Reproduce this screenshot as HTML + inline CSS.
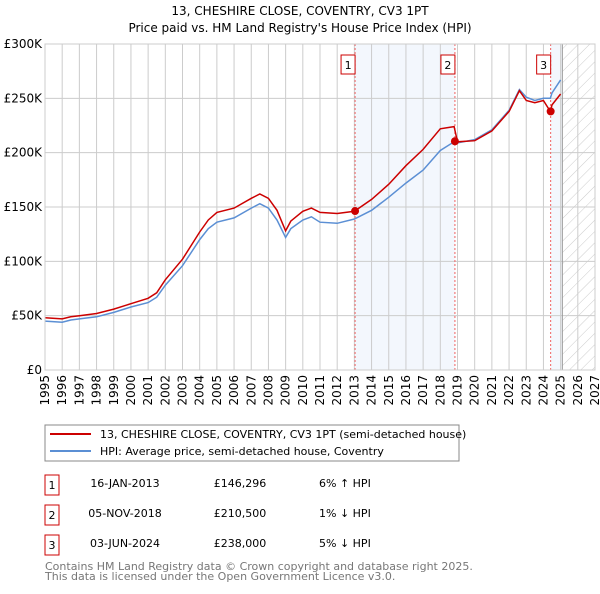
<!DOCTYPE html>
<html><head><meta charset="utf-8"><style>
body{margin:0;background:#fff;font-family:"DejaVu Sans","Liberation Sans",sans-serif;}
svg text{font-family:"DejaVu Sans","Liberation Sans",sans-serif;}
</style></head><body>
<svg id="c" width="600" height="590" xmlns="http://www.w3.org/2000/svg">
<defs><pattern id="hatch" width="8" height="8" patternUnits="userSpaceOnUse" patternTransform="rotate(45)"><line x1="0" y1="0" x2="0" y2="8" stroke="#ccc" stroke-width="1"/></pattern></defs>
<text x="300" y="15" text-anchor="middle" font-size="12" fill="#000">13, CHESHIRE CLOSE, COVENTRY, CV3 1PT</text>
<text x="300" y="32" text-anchor="middle" font-size="12" fill="#000">Price paid vs. HM Land Registry's House Price Index (HPI)</text>
<g id="plot"></g>
<g>
<rect x="45" y="425" width="414" height="36" fill="#fff" stroke="#888"/>
<line x1="50" y1="434" x2="91" y2="434" stroke="#cc0000" stroke-width="2"/>
<text x="100" y="438" font-size="11">13, CHESHIRE CLOSE, COVENTRY, CV3 1PT (semi-detached house)</text>
<line x1="50" y1="451" x2="91" y2="451" stroke="#5b8fd4" stroke-width="2"/>
<text x="100" y="455" font-size="11">HPI: Average price, semi-detached house, Coventry</text>
</g>
<g font-size="11">
<rect x="45" y="475" width="14" height="20" fill="none" stroke="#cc0000"/><text x="52" y="489" text-anchor="middle">1</text>
<text x="125" y="487" text-anchor="middle">16-JAN-2013</text><text x="240" y="487" text-anchor="middle">£146,296</text><text x="319" y="487">6% ↑ HPI</text>
<rect x="45" y="505" width="14" height="20" fill="none" stroke="#cc0000"/><text x="52" y="519" text-anchor="middle">2</text>
<text x="125" y="517" text-anchor="middle">05-NOV-2018</text><text x="240" y="517" text-anchor="middle">£210,500</text><text x="319" y="517">1% ↓ HPI</text>
<rect x="45" y="535" width="14" height="20" fill="none" stroke="#cc0000"/><text x="52" y="549" text-anchor="middle">3</text>
<text x="125" y="547" text-anchor="middle">03-JUN-2024</text><text x="240" y="547" text-anchor="middle">£238,000</text><text x="319" y="547">5% ↓ HPI</text>
</g>
<text x="45" y="570" font-size="11" fill="#777">Contains HM Land Registry data © Crown copyright and database right 2025.</text>
<text x="45" y="580" font-size="11" fill="#777">This data is licensed under the Open Government Licence v3.0.</text>
</svg>
<script>
const years=[1995,1996,1996.5,1997,1998,1999,2000,2001,2001.5,2002,2003,2004,2004.5,2005,2006,2007,2007.5,2008,2008.5,2009,2009.3,2010,2010.5,2011,2012,2013,2014,2015,2016,2017,2018,2018.8,2019,2020,2021,2022,2022.6,2023,2023.5,2024,2024.4,2024.5,2025];
const hpi=[45,44,46,47,49,53,58,62,67,78,96,120,130,136,140,149,153,149,138,122,130,138,141,136,135,139,147,159,172,184,202,210,209,212,221,239,258,251,248,250,250,255,267];
const paid=[48,47,49,50,52,56,61,66,71,83,102,127,138,145,149,158,162,158,147,128,137,146,149,145,144,146,157,171,188,203,222,224,210,211,220,238,257,248,246,248,238,244,254];
const ticks=[0,50000,100000,150000,200000,250000,300000];
const tickLabels=["£0","£50K","£100K","£150K","£200K","£250K","£300K"];
const xYears=[1995,1996,1997,1998,1999,2000,2001,2002,2003,2004,2005,2006,2007,2008,2009,2010,2011,2012,2013,2014,2015,2016,2017,2018,2019,2020,2021,2022,2023,2024,2025,2026,2027];
const sales=[{t:2013.04,v:146296,n:"1"},{t:2018.85,v:210500,n:"2"},{t:2024.42,v:238000,n:"3"}];
const X0=45,X1=595,Y0=370,Y1=44;
const xs=t=>X0+(t-1995)/32*(X1-X0);
const ys=v=>Y0-v/300000*(Y0-Y1);
const NS="http://www.w3.org/2000/svg";
const g=document.getElementById('plot');
function mk(tag,attrs,parent){const e=document.createElementNS(NS,tag);for(const k in attrs)e.setAttribute(k,attrs[k]);(parent||g).appendChild(e);return e;}
let r=mk('rect',{x:xs(sales[0].t),y:Y1,width:xs(sales[1].t)-xs(sales[0].t),height:Y0-Y1,fill:'#eef3fc',opacity:0.7});


r=mk('rect',{x:xs(sales[2].t),y:Y1,width:xs(2025.1)-xs(sales[2].t),height:Y0-Y1,fill:'#eef3fc',opacity:0.7});


r=mk('rect',{x:xs(2025.1),y:Y1,width:X1-xs(2025.1),height:Y0-Y1,fill:'url(#hatch)'});


xYears.forEach(y=>{const l=mk('line',{x1:xs(y),x2:xs(y),y1:Y1,y2:Y0,stroke:'#ccc','stroke-width':1});


const tx=xs(y)+4, ty=Y0+5;
const t=mk('text',{x:tx,y:ty,'text-anchor':'end','font-size':12,transform:'rotate(-90 '+tx+' '+ty+')'});t.textContent=y;

});
ticks.forEach((v,i)=>{const l=mk('line',{x1:X0,x2:X1,y1:ys(v),y2:ys(v),stroke:'#ccc','stroke-width':1});


const t=mk('text',{x:X0-3,y:ys(v)+4,'text-anchor':'end','font-size':12});t.textContent=tickLabels[i];

});
let ln=mk('line',{x1:xs(2025.1),x2:xs(2025.1),y1:Y1,y2:Y0,stroke:'#999','stroke-width':1});


sales.forEach(s=>{const l=mk('line',{x1:xs(s.t),x2:xs(s.t),y1:Y1,y2:Y0,stroke:'#f06060','stroke-width':1,'stroke-dasharray':'2,2'});


const b=mk('rect',{x:xs(s.t)-14,y:55,width:14,height:19,fill:'#fff',stroke:'#cc0000'});


const t=mk('text',{x:xs(s.t)-7,y:69,'text-anchor':'middle','font-size':11});t.textContent=s.n;

});
const path=arr=>arr.map((v,i)=>(i?'L':'M')+xs(years[i]).toFixed(1)+','+ys(v*1000).toFixed(1)).join('');
let p=mk('path',{d:path(hpi),fill:'none',stroke:'#5b8fd4','stroke-width':1.5});


p=mk('path',{d:path(paid),fill:'none',stroke:'#cc0000','stroke-width':1.5});


sales.forEach(s=>{const c=mk('circle',{cx:xs(s.t),cy:ys(s.v),r:4,fill:'#cc0000'});

});
let fr=mk('rect',{x:X0,y:Y1,width:X1-X0,height:Y0-Y1,fill:'none',stroke:'#ccc'});


</script>
</body></html>
